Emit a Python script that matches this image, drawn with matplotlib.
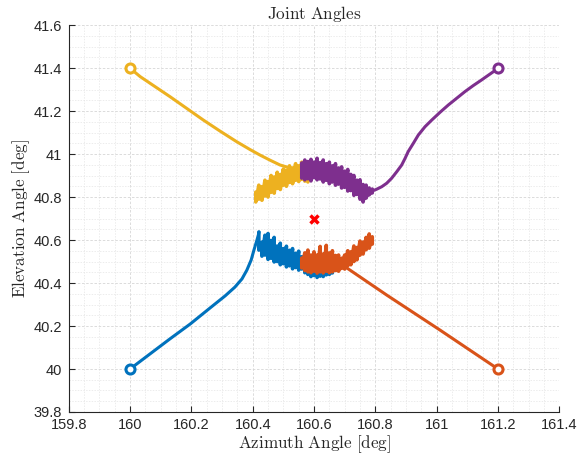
import matplotlib
matplotlib.use('Agg')
import matplotlib.pyplot as plt
import numpy as np
from matplotlib.ticker import MultipleLocator

# MATLAB default line colours
c_blue = '#0072BD'
c_orange = '#D95319'
c_yellow = '#EDB120'
c_purple = '#7E2F8E'

# smooth legs of each trajectory (from the start circle to the noisy part)
blue_x = [160.000, 160.065, 160.130, 160.196, 160.261, 160.310, 160.342, 160.365,
          160.381, 160.395, 160.404, 160.414, 160.421]
blue_y = [40.000, 40.070, 40.140, 40.209, 40.284, 40.340, 40.381, 40.419,
          40.460, 40.507, 40.553, 40.600, 40.637]

orange_x = [161.200, 161.011, 160.837, 160.707, 160.636, 160.587]
orange_y = [40.000, 40.181, 40.344, 40.470, 40.484, 40.479]

yellow_x = [160.000, 160.033, 160.082, 160.130, 160.183, 160.239, 160.293, 160.348,
            160.391, 160.424, 160.457, 160.489, 160.522, 160.554, 160.603]
yellow_y = [41.399, 41.360, 41.313, 41.267, 41.214, 41.158, 41.107, 41.057,
            41.021, 40.995, 40.971, 40.949, 40.935, 40.926, 40.916]

purple_x = [161.201, 161.174, 161.147, 161.119, 161.092, 161.065, 161.038, 161.011,
            160.984, 160.962, 160.940, 160.924, 160.907, 160.897, 160.886, 160.870,
            160.853, 160.837, 160.821, 160.804, 160.790]
purple_y = [41.399, 41.372, 41.345, 41.318, 41.290, 41.259, 41.228, 41.194,
            41.158, 41.127, 41.088, 41.050, 41.011, 40.980, 40.949, 40.918,
            40.887, 40.864, 40.848, 40.836, 40.828]

# noisy parts near the target: x, upper edge, lower edge
blue_nx = [160.42, 160.43, 160.44, 160.45, 160.46, 160.47, 160.48, 160.49, 160.50,
           160.51, 160.52, 160.53, 160.54, 160.55, 160.56, 160.57, 160.58, 160.59,
           160.60, 160.61, 160.62, 160.63, 160.64, 160.65, 160.66]
blue_top = [40.637, 40.590, 40.622, 40.630, 40.598, 40.612, 40.572, 40.585, 40.560,
            40.571, 40.552, 40.560, 40.538, 40.548, 40.522, 40.530, 40.508, 40.515,
            40.495, 40.500, 40.486, 40.490, 40.478, 40.480, 40.470]
blue_bot = [40.553, 40.525, 40.530, 40.510, 40.515, 40.498, 40.500, 40.485, 40.490,
            40.475, 40.480, 40.466, 40.472, 40.460, 40.465, 40.448, 40.440, 40.430,
            40.435, 40.426, 40.432, 40.430, 40.438, 40.440, 40.447]

orange_nx = [160.56, 160.57, 160.58, 160.59, 160.60, 160.61, 160.62, 160.63, 160.64,
             160.65, 160.66, 160.67, 160.68, 160.69, 160.70, 160.71, 160.72, 160.73,
             160.74, 160.75, 160.76, 160.77, 160.78, 160.79]
orange_top = [40.516, 40.540, 40.553, 40.530, 40.545, 40.530, 40.570, 40.535, 40.575,
              40.540, 40.550, 40.528, 40.530, 40.515, 40.530, 40.550, 40.545, 40.572,
              40.565, 40.595, 40.590, 40.612, 40.628, 40.615]
orange_bot = [40.470, 40.458, 40.452, 40.448, 40.455, 40.446, 40.452, 40.447, 40.455,
              40.448, 40.452, 40.458, 40.455, 40.468, 40.465, 40.480, 40.485, 40.500,
              40.508, 40.530, 40.535, 40.555, 40.562, 40.581]

yellow_nx = [160.41, 160.42, 160.43, 160.44, 160.45, 160.46, 160.47, 160.48, 160.49,
             160.50, 160.51, 160.52, 160.53, 160.54, 160.55, 160.56, 160.57, 160.58]
yellow_top = [40.823, 40.855, 40.848, 40.878, 40.872, 40.900, 40.893, 40.915, 40.905,
              40.930, 40.925, 40.945, 40.935, 40.955, 40.945, 40.962, 40.955, 40.953]
yellow_bot = [40.777, 40.790, 40.785, 40.805, 40.800, 40.822, 40.818, 40.840, 40.835,
              40.855, 40.850, 40.868, 40.862, 40.878, 40.872, 40.882, 40.874, 40.870]

purple_nx = [160.56, 160.57, 160.58, 160.59, 160.60, 160.61, 160.62, 160.63, 160.64,
             160.65, 160.66, 160.67, 160.68, 160.69, 160.70, 160.71, 160.72, 160.73,
             160.74, 160.75, 160.76, 160.77, 160.78, 160.79]
purple_top = [40.958, 40.972, 40.965, 40.975, 40.962, 40.980, 40.960, 40.972, 40.955,
              40.962, 40.945, 40.955, 40.935, 40.940, 40.920, 40.928, 40.905, 40.900,
              40.878, 40.880, 40.858, 40.855, 40.842, 40.837]
purple_bot = [40.888, 40.880, 40.885, 40.875, 40.890, 40.880, 40.884, 40.870, 40.878,
              40.862, 40.870, 40.855, 40.860, 40.842, 40.845, 40.828, 40.830, 40.808,
              40.812, 40.790, 40.777, 40.795, 40.810, 40.819]

target_x = 160.6
target_y = 40.696


def zigzag(x, top, bot):
    # walk top -> bottom at each sample so the line fills the band
    xs = np.repeat(x, 2)
    ys = np.column_stack([top, bot]).ravel()
    return xs, ys


plt.rcParams['mathtext.fontset'] = 'cm'
plt.rcParams['font.family'] = ['Liberation Sans', 'DejaVu Sans']

fig = plt.figure(figsize=(5.79, 4.59), dpi=100)
ax = fig.add_axes([0.1187, 0.1024, 0.8473, 0.8431])

lw = 2.2
traj = [
    (blue_x, blue_y, blue_nx, blue_top, blue_bot, c_blue),
    (orange_x, orange_y, orange_nx, orange_top, orange_bot, c_orange),
    (yellow_x, yellow_y, yellow_nx, yellow_top, yellow_bot, c_yellow),
    (purple_x, purple_y, purple_nx, purple_top, purple_bot, c_purple),
]
for i, (x, y, nx, top, bot, col) in enumerate(traj):
    z = 3 + i
    ax.plot(x, y, color=col, lw=lw, solid_capstyle='round',
            solid_joinstyle='round', zorder=z)
    zx, zy = zigzag(nx, top, bot)
    ax.plot(zx, zy, color=col, lw=2.6, solid_joinstyle='round',
            solid_capstyle='round', zorder=z)
    ax.plot(x[0], y[0], 'o', color=col, ms=6.5, mew=2.2, mfc='white', zorder=10)

ax.plot(target_x, target_y, 'x', color='red', ms=6, mew=2.5, zorder=11)

ax.set_xlim(159.8, 161.4)
ax.set_ylim(39.8, 41.6)
ax.xaxis.set_major_locator(MultipleLocator(0.2))
ax.yaxis.set_major_locator(MultipleLocator(0.2))
ax.xaxis.set_minor_locator(MultipleLocator(0.05))
ax.yaxis.set_minor_locator(MultipleLocator(0.05))
ax.xaxis.set_major_formatter(plt.FuncFormatter(lambda v, p: f'{v:g}'))
ax.yaxis.set_major_formatter(plt.FuncFormatter(lambda v, p: f'{v:g}'))

ax.grid(True, which='major', color='#d6d6d6', lw=0.6, linestyle=(0, (3, 2)))
ax.grid(True, which='minor', color='#e4e4e4', lw=0.5, linestyle=(0, (2, 2)))
ax.set_axisbelow(True)

for s in ['top', 'right']:
    ax.spines[s].set_visible(False)
for s in ['left', 'bottom']:
    ax.spines[s].set_color('#262626')
    ax.spines[s].set_linewidth(0.8)
ax.tick_params(which='major', direction='in', length=4, width=0.8,
               colors='#262626', labelsize=10.5)
ax.tick_params(which='minor', length=0)
ax.tick_params(axis='x', pad=4)
ax.tick_params(axis='y', pad=5)

ax.set_title(r'$\mathrm{Joint\ Angles}$', fontsize=12.3, color='#262626', pad=4)
ax.set_xlabel(r'$\mathrm{Azimuth\ Angle\ [deg]}$', fontsize=12.3, color='#262626', labelpad=1)
ax.set_ylabel(r'$\mathrm{Elevation\ Angle\ [deg]}$', fontsize=12.3, color='#262626', labelpad=1)

plt.savefig('out.png', dpi=100)
plt.close(fig)
